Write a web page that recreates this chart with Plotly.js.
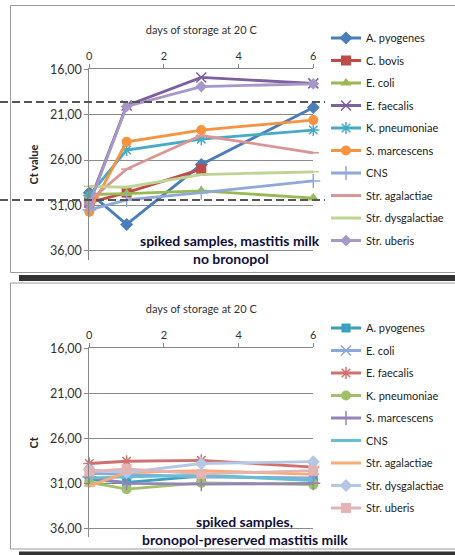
<!DOCTYPE html>
<html>
<head>
<meta charset="utf-8">
<script src="https://cdn.plot.ly/plotly-3.0.1.min.js"></script>
<style>
  html, body { margin: 0; padding: 0; background: #fff; }
  #chart { width: 455px; height: 555px; }
</style>
</head>
<body>
<div id="chart"></div>
<script>
// ---------- data ----------
const days = [0, 1, 3, 6];
const yTickVals = [16, 21, 26, 31, 36];
const yTickText = ['16,00', '21,00', '26,00', '31,00', '36,00'];
const xTickVals = [0, 2, 4, 6];

// top panel: spiked samples, mastitis milk, no bronopol (Ct value)
const topNames = ['A. pyogenes', 'C. bovis', 'E. coli', 'E. faecalis', 'K. pneumoniae',
                  'S. marcescens', 'CNS', 'Str. agalactiae', 'Str. dysgalactiae', 'Str. uberis'];
const topApyogenes     = [29.6, 33.1, 26.5, 20.2];
const topCbovis        = [30.7, 29.6, 27.0, null];
const topEcoli         = [29.8, 29.7, 29.4, 30.2];
const topEfaecalis     = [30.7, 20.0, 16.9, 17.55];
const topKpneumoniae   = [29.9, 24.9, 23.7, 22.7];
const topSmarcescens   = [31.7, 24.0, 22.7, 21.6];
const topCNS           = [31.5, 30.4, 29.6, 28.3];
const topStrAgalactiae = [30.5, 27.0, 23.3, 25.2];
const topStrDysgal     = [28.9, 29.0, 27.6, 27.3];
const topStrUberis     = [30.9, 20.1, 17.9, 17.6];
const topCutoffs = [19.6, 30.4];

// bottom panel: spiked samples, bronopol-preserved mastitis milk (Ct)
const botNames = ['A. pyogenes', 'E. coli', 'E. faecalis', 'K. pneumoniae', 'S. marcescens',
                  'CNS', 'Str. agalactiae', 'Str. dysgalactiae', 'Str. uberis'];
const botApyogenes     = [30.6, 30.9, 30.2, 30.5];
const botEcoli         = [29.9, 30.0, 30.3, 30.4];
const botEfaecalis     = [28.8, 28.55, 28.45, 29.2];
const botKpneumoniae   = [30.9, 31.65, 30.95, 31.15];
const botSmarcescens   = [30.3, 31.0, 31.1, 31.0];
const botCNS           = [30.4, 30.3, 30.1, 30.7];
const botStrAgalactiae = [31.3, 29.8, 29.6, 30.0];
const botStrDysgal     = [29.5, 29.8, 28.8, 28.6];
const botStrUberis     = [29.7, 29.4, 29.95, 29.6];

// ---------- styles ----------
const W = 455, H = 555;
const X = px => px / W;
const Y = py => 1 - py / H;
const FONT = 'Lato, "Open Sans", sans-serif';

const topStyles = [
  {c: '#4A7EBB', s: 'diamond', sz: 10},
  {c: '#BE4B48', s: 'square', sz: 10},
  {c: '#98B954', s: 'triangle-up', sz: 10},
  {c: '#7D60A0', s: 'x-thin-open', sz: 10},
  {c: '#46AAC5', s: 'asterisk-open', sz: 10},
  {c: '#F69240', s: 'circle', sz: 10},
  {c: '#8EA9D8', s: 'cross-thin-open', sz: 10},
  {c: '#DA9694', s: 'line-ew-open', sz: 8},
  {c: '#BCD494', s: 'line-ew-open', sz: 8},
  {c: '#A898C8', s: 'diamond', sz: 9}
];
const topData = [topApyogenes, topCbovis, topEcoli, topEfaecalis, topKpneumoniae,
                 topSmarcescens, topCNS, topStrAgalactiae, topStrDysgal, topStrUberis];

const botStyles = [
  {c: '#3AA0BE', s: 'square', sz: 9},
  {c: '#8BA8DA', s: 'x-thin-open', sz: 10},
  {c: '#D2706E', s: 'asterisk-open', sz: 10},
  {c: '#A2C06A', s: 'circle', sz: 10},
  {c: '#9683B8', s: 'cross-thin-open', sz: 10},
  {c: '#66BED4', s: null, sz: 0},
  {c: '#FAAA74', s: 'line-ew-open', sz: 8},
  {c: '#B4C8E6', s: 'diamond', sz: 10},
  {c: '#E3B4B3', s: 'square', sz: 10}
];
const botData = [botApyogenes, botEcoli, botEfaecalis, botKpneumoniae, botSmarcescens,
                 botCNS, botStrAgalactiae, botStrDysgal, botStrUberis];

function mkTrace(name, ys, st, xa, ya, leg, grp) {
  const t = {
    type: 'scatter', x: days, y: ys, name: name,
    xaxis: xa, yaxis: ya, legend: leg, legendgroup: grp,
    connectgaps: false, cliponaxis: false,
    line: {color: st.c, width: 2.8},
    mode: st.s ? 'lines+markers' : 'lines'
  };
  if (st.s) {
    const open = st.s.indexOf('open') >= 0;
    t.marker = {symbol: st.s, size: st.sz, color: st.c,
                line: {color: st.c, width: open ? 1.5 : 0}};
  }
  return t;
}

const traces = [];
topNames.forEach((n, i) => traces.push(mkTrace(n, topData[i], topStyles[i], 'x', 'y', 'legend', 't' + i)));
botNames.forEach((n, i) => traces.push(mkTrace(n, botData[i], botStyles[i], 'x2', 'y2', 'legend2', 'b' + i)));

const axisFont = {family: FONT, size: 11, color: '#333'};
const tickFont = {family: FONT, size: 12.5, color: '#333'};

function xAx(anchor) {
  return {
    domain: [X(89.3), X(313.3)], range: [0, 6], anchor: anchor, side: 'top',
    tickvals: xTickVals, ticks: 'outside', ticklen: 4, tickcolor: '#888',
    showline: true, linecolor: '#888', linewidth: 1,
    showgrid: false, zeroline: false, tickfont: axisFont,
    title: {text: 'days of storage at 20 C', font: axisFont, standoff: 12}
  };
}
function yAx(anchor, top, bottom, title) {
  return {
    domain: [Y(bottom), Y(top)], range: [37, 16], anchor: anchor,
    tickvals: yTickVals, ticktext: yTickText, ticks: 'outside', ticklen: 4, tickcolor: '#888',
    showline: true, linecolor: '#888', linewidth: 1,
    showgrid: true, gridcolor: '#8a8a8a', gridwidth: 1, zeroline: false,
    tickfont: tickFont,
    title: {text: '<b>' + title + '</b>', font: {family: FONT, size: 11, color: '#222'}, standoff: 9}
  };
}

const shapes = [
  // frames
  {type: 'rect', xref: 'paper', yref: 'paper', x0: X(10.5), x1: X(470), y0: Y(5.5), y1: Y(272.5),
   line: {color: '#9a9a9a', width: 1}, layer: 'below'},
  {type: 'rect', xref: 'paper', yref: 'paper', x0: X(19), x1: X(470), y0: Y(275), y1: Y(281),
   line: {width: 0}, fillcolor: '#333', layer: 'below'},
  {type: 'rect', xref: 'paper', yref: 'paper', x0: X(10.5), x1: X(470), y0: Y(283), y1: Y(549),
   line: {color: '#9a9a9a', width: 1}, layer: 'below'},
  {type: 'rect', xref: 'paper', yref: 'paper', x0: X(19), x1: X(470), y0: Y(551.5), y1: Y(560),
   line: {width: 0}, fillcolor: '#333', layer: 'below'}
];
topCutoffs.forEach(v => shapes.push({
  type: 'line', xref: 'paper', yref: 'y', x0: 0, x1: X(325), y0: v, y1: v,
  line: {color: '#555', width: 2, dash: '8px,4px'}, layer: 'above'
}));

const annFont = {family: FONT, size: 14, color: '#10103a'};
const annotations = [
  {xref: 'paper', yref: 'paper', x: X(230), y: Y(240), text: '<b>spiked samples, mastitis milk</b>',
   showarrow: false, font: annFont, xanchor: 'center', yanchor: 'middle'},
  {xref: 'paper', yref: 'paper', x: X(231), y: Y(258), text: '<b>no bronopol</b>',
   showarrow: false, font: annFont, xanchor: 'center', yanchor: 'middle'},
  {xref: 'paper', yref: 'paper', x: X(244), y: Y(521.5), text: '<b>spiked samples,</b>',
   showarrow: false, font: annFont, xanchor: 'center', yanchor: 'middle'},
  {xref: 'paper', yref: 'paper', x: X(245), y: Y(539), text: '<b>bronopol-preserved mastitis milk</b>',
   showarrow: false, font: annFont, xanchor: 'center', yanchor: 'middle'}
];

const legFont = {family: FONT, size: 11, color: '#222'};
const layout = {
  width: W, height: H,
  margin: {l: 0, r: 0, t: 0, b: 0},
  paper_bgcolor: '#fff', plot_bgcolor: 'rgba(0,0,0,0)',
  xaxis: xAx('y'), yaxis: yAx('x', 69.3, 259.8, 'Ct value'),
  xaxis2: xAx('y2'), yaxis2: yAx('x2', 348.3, 537.3, 'Ct'),
  legend: {x: X(326), y: Y(23.5), xanchor: 'left', yanchor: 'top', font: legFont,
           tracegroupgap: 3.5, bgcolor: 'rgba(0,0,0,0)', borderwidth: 0},
  legend2: {x: X(326), y: Y(313.5), xanchor: 'left', yanchor: 'top', font: legFont,
            tracegroupgap: 3.5, bgcolor: 'rgba(0,0,0,0)', borderwidth: 0},
  shapes: shapes, annotations: annotations, showlegend: true
};

Plotly.newPlot('chart', traces, layout, {staticPlot: true, displayModeBar: false});
</script>
</body>
</html>
